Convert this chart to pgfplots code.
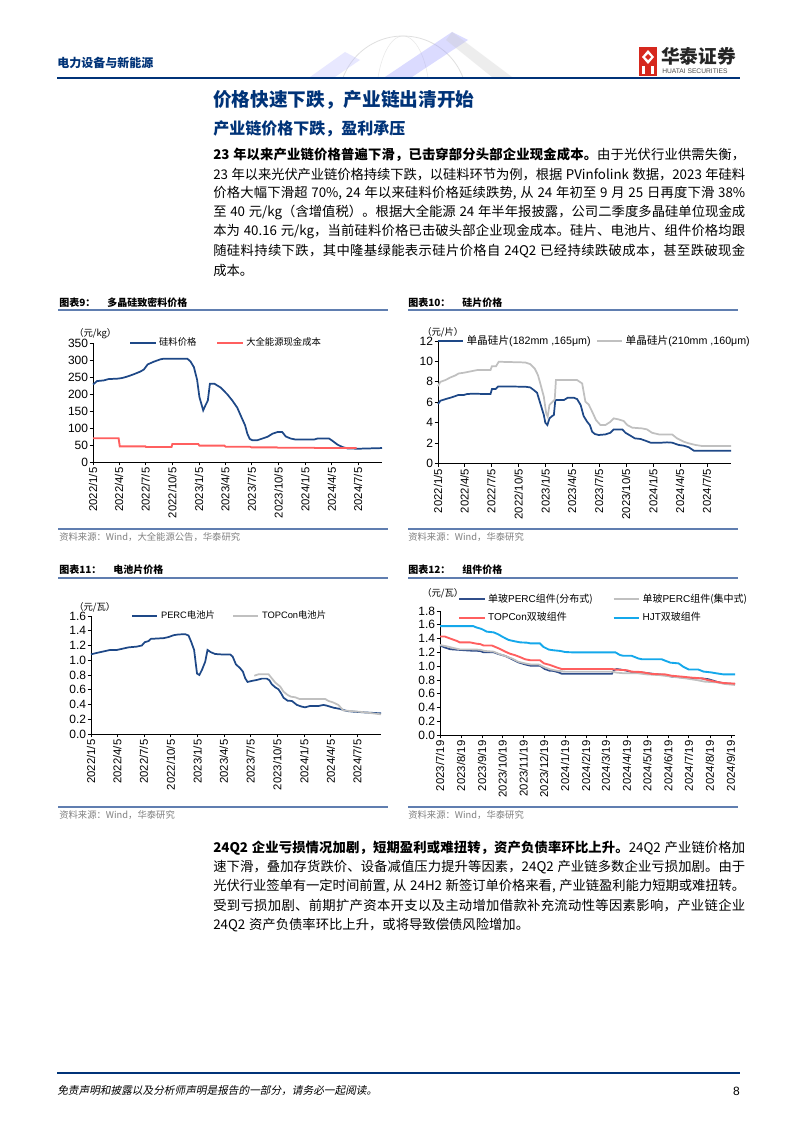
\documentclass[border=0pt]{standalone}
\usepackage{fontspec}
\setmainfont{Liberation Sans}
\newfontfamily\cjk{Noto Sans CJK SC}
\newfontfamily\cjkit{Noto Sans CJK SC}[FakeSlant=0.2]
\usepackage{pgfplots}
\pgfplotsset{compat=1.18}

% stretchable glue between CJK characters, so that the text lines can be justified
\XeTeXinterchartokenstate=1
\newXeTeXintercharclass\cjkclass
\count255="4E00
\loop\ifnum\count255<"9FFF
  \XeTeXcharclass\count255=\cjkclass
  \advance\count255 by 1
\repeat
\XeTeXcharclass"3001=\cjkclass
\XeTeXcharclass"3002=\cjkclass
\XeTeXcharclass"FF0C=\cjkclass
\XeTeXcharclass"FF08=\cjkclass
\XeTeXcharclass"FF09=\cjkclass
\XeTeXinterchartoks\cjkclass\cjkclass={\hskip0pt plus 1.5pt minus 0.3pt\relax}

\definecolor{htblue}{RGB}{0,51,120}
\definecolor{rulecol}{RGB}{96,126,176}
\definecolor{srcgray}{RGB}{128,128,128}
\definecolor{lnblue}{RGB}{30,72,135}
\definecolor{lnred}{RGB}{255,95,95}
\definecolor{lngray}{RGB}{192,192,192}
\definecolor{lncyan}{RGB}{20,168,235}
\definecolor{lnnavy}{RGB}{48,78,138}
\definecolor{logored}{RGB}{214,40,30}

\newcommand{\zh}[1]{{\cjk #1}}
\newcommand{\fs}[1]{\fontsize{#1}{#1}\selectfont}
\newcommand{\bodyfont}{\cjk\fs{10}\spaceskip=0.28em plus 0.3pt minus 0.05em\relax}

\pgfplotsset{
  htsaxis/.style={
    scale only axis, anchor=south west, clip=false,
    axis x line*=bottom, axis y line*=left,
    axis line style={black, line width=0.6pt},
    tick align=outside, major tick length=2.5pt,
    tick style={black, line width=0.5pt},
    /pgf/number format/assume math mode=true,
    yticklabel style={font=\fs{9}, inner sep=1pt},
    xticklabel style={font=\fs{8.5}, rotate=90, anchor=east, inner sep=1.5pt},
    legend style={draw=none, fill=none, inner sep=0pt, font=\fs{7},
      legend columns=2, cells={anchor=west}},
    legend image code/.code={\draw[#1] (0pt,0pt) -- (19pt,0pt);},
  },
  dates22/.style={
    xmin=0, xmax=994,
    xtick={0,90,181,273,365,455,546,638,730,821,912},
    xticklabels={2022/1/5,2022/4/5,2022/7/5,2022/10/5,2023/1/5,2023/4/5,2023/7/5,2023/10/5,2024/1/5,2024/4/5,2024/7/5},
  },
}

\begin{document}
\begin{tikzpicture}
\begin{scope}[x=0.75pt, y=-0.75pt]
\fill[white] (0,0) rectangle (794,1123);

% ---- header
\begin{scope}[opacity=0.35]
  \clip (300,22) rectangle (520,77);
  \draw[gray!70, line width=0.6pt] (403,100) circle [radius=48pt];
  \draw[gray!50, line width=0.4pt] (403,100) ellipse [x radius=48pt, y radius=16pt];
  \draw[gray!50, line width=0.4pt] (403,100) ellipse [x radius=20pt, y radius=48pt];
  \fill[blue!40] (385,77) -- (452,32) -- (468,40) -- (412,77) -- cycle;
  \fill[gray!40] (452,32) -- (512,77) -- (492,77) -- (446,40) -- cycle;
  \fill[blue!25] (310,77) -- (345,52) -- (360,60) -- (335,77) -- cycle;
\end{scope}
\node[anchor=west, inner sep=0pt, text=htblue] at (57,63) {\cjk\bfseries\fs{9}电力设备与新能源};
\fill[logored] (639,47) rectangle (657,76);
\fill[white] (648,50) -- (654,57) -- (648,64) -- (642,57) -- cycle;
\fill[logored] (648,54) -- (651,57) -- (648,60) -- (645,57) -- cycle;
\fill[white] (642,66) rectangle (645,74);
\fill[white] (651,66) rectangle (654,74);
\node[anchor=west, inner sep=0pt, text=black!85] at (661,56) {\cjk\bfseries\fs{14}华泰证券};
\node[anchor=west, inner sep=0pt, text=black!70] at (662,71) {\fs{5}HUATAI SECURITIES};
\draw[htblue, line width=1.6pt] (57,78) -- (740,78);

% ---- headings and text
\node[anchor=west, inner sep=0pt, text=htblue] at (213,100) {\cjk\bfseries\fs{14}价格快速下跌，产业链出清开始};
\node[anchor=west, inner sep=0pt, text=htblue] at (213,129) {\cjk\bfseries\fs{12}产业链价格下跌，盈利承压};
\begin{scope}[every node/.style={anchor=west, inner sep=0pt, font=\bodyfont}]
\node at (213,155.0) {\hbox to 399pt{{\bfseries 23 年以来产业链价格普遍下滑，已击穿部分头部企业现金成本。}由于光伏行业供需失衡，}};
\node at (213,174.2) {\hbox to 399pt{23 年以来光伏产业链价格持续下跌，以硅料环节为例，根据 PVinfolink 数据，2023 年硅料}};
\node at (213,193.4) {\hbox to 399pt{价格大幅下滑超 70\%, 24 年以来硅料价格延续跌势, 从 24 年初至 9 月 25 日再度下滑 38\%}};
\node at (213,212.6) {\hbox to 399pt{至 40 元/kg（含增值税）。根据大全能源 24 年半年报披露，公司二季度多晶硅单位现金成}};
\node at (213,231.8) {\hbox to 399pt{本为 40.16 元/kg，当前硅料价格已击破头部企业现金成本。硅片、电池片、组件价格均跟}};
\node at (213,251.0) {\hbox to 399pt{随硅料持续下跌，其中隆基绿能表示硅片价格自 24Q2 已经持续跌破成本，甚至跌破现金}};
\node at (213,270.2) {\hbox{成本。}};
\node at (213,848.0) {\hbox to 399pt{{\bfseries 24Q2 企业亏损情况加剧，短期盈利或难扭转，资产负债率环比上升。}24Q2 产业链价格加}};
\node at (213,867.2) {\hbox to 399pt{速下滑，叠加存货跌价、设备减值压力提升等因素，24Q2 产业链多数企业亏损加剧。由于}};
\node at (213,886.4) {\hbox to 399pt{光伏行业签单有一定时间前置, 从 24H2 新签订单价格来看, 产业链盈利能力短期或难扭转。}};
\node at (213,905.6) {\hbox to 399pt{受到亏损加剧、前期扩产资本开支以及主动增加借款补充流动性等因素影响，产业链企业}};
\node at (213,924.8) {\hbox{24Q2 资产负债率环比上升，或将导致偿债风险增加。}};
\end{scope}

% ---- chart frames
\begin{scope}[every node/.style={anchor=west, inner sep=0pt}]
\node at (59,302.5) {\cjk\bfseries\fs{7.5}图表9：\hspace{1.2em}多晶硅致密料价格};
\node at (408,302.5) {\cjk\bfseries\fs{7.5}图表10：\hspace{1.2em}硅片价格};
\node at (59,570) {\cjk\bfseries\fs{7.5}图表11：\hspace{1.2em}电池片价格};
\node at (408,570) {\cjk\bfseries\fs{7.5}图表12：\hspace{1.2em}组件价格};
\node[text=srcgray] at (59,537) {\cjk\fs{7}资料来源：Wind，大全能源公告，华泰研究};
\node[text=srcgray] at (408,537) {\cjk\fs{7}资料来源：Wind，华泰研究};
\node[text=srcgray] at (59,815) {\cjk\fs{7}资料来源：Wind，华泰研究};
\node[text=srcgray] at (408,815) {\cjk\fs{7}资料来源：Wind，华泰研究};
\node at (74,334) {\cjk\fs{7}（元/kg）};
\node at (422,332) {\cjk\fs{7}（元/片）};
\node at (74,607) {\cjk\fs{7}（元/瓦）};
\node at (422,593) {\cjk\fs{7}（元/瓦）};
\end{scope}
\draw[rulecol, line width=0.8pt] (58,310) -- (388,310) (408,310) -- (738,310)
  (58,529) -- (388,529) (408,529) -- (738,529)
  (58,578) -- (388,578) (408,578) -- (738,578)
  (58,807) -- (388,807) (408,807) -- (738,807);

% ---- footer
\draw[htblue, line width=1.6pt] (57,1073) -- (740,1073);
\node[anchor=west, inner sep=0pt] at (57,1091) {\cjkit\fs{8}免责声明和披露以及分析师声明是报告的一部分，请务必一起阅读。};
\node[anchor=east, inner sep=0pt] at (740,1091) {\fs{9}8};
\end{scope}

% ---- chart 9
\begin{axis}[htsaxis, dates22, at={(69.75pt,-346.5pt)}, width=216.75pt, height=89.25pt,
  ymin=0, ymax=350, ytick={0,50,...,350},
  legend style={at={(0.125,1)}, anchor=west, /tikz/every even column/.append style={column sep=13pt}}]
\addplot[lnblue, line width=1.3pt] coordinates {(0,228)(14,238)(37,240)(54,244)(83,245)(100,247)(117,251)(140,258)(163,266)(175,272)(188,287)(209,295)(232,302)(244,304)(324,304)(335,296)(347,279)(358,242)(366,191)(379,152)(387,167)(395,181)(402,230)(418,230)(439,219)(462,199)(479,181)(496,160)(513,127)(523,108)(531,83)(539,68)(548,64)(565,64)(600,74)(617,83)(634,88)(651,88)(663,75)(680,69)(697,66)(760,66)(772,69)(812,69)(824,62)(841,51)(858,44)(875,40)(910,39)(994,41)};
\addlegendentry{\zh{硅料价格}}
\addplot[lnred, line width=1.4pt] coordinates {(0,70)(88,70)(92,46)(180,46)(182,44)(270,44)(273,53)(362,53)(366,48)(452,48)(456,45)(540,45)(545,43)(632,43)(636,42)(760,42)(764,41)(907,41)};
\addlegendentry{\zh{大全能源现金成本}}
\end{axis}

% ---- chart 10
\begin{axis}[htsaxis, dates22, at={(328.5pt,-347.5pt)}, width=219.75pt, height=91.7pt,
  ymin=0, ymax=12, ytick={0,2,...,12},
  legend style={at={(-0.005,1)}, anchor=west, font=\fs{8}, /tikz/every even column/.append style={column sep=2pt}}]
\addplot[lnblue, line width=1.3pt] coordinates {(0,5.82)(8,6.14)(25,6.3)(42,6.44)(59,6.6)(68,6.7)(87,6.7)(98,6.8)(115,6.83)(178,6.8)(183,7.29)(195,7.29)(204,7.55)(296,7.52)(313,7.45)(325,7.19)(336,6.93)(347,5.88)(359,4.74)(364,3.99)(371,3.76)(378,4.41)(387,4.64)(393,4.74)(398,6.21)(427,6.21)(440,6.44)(461,6.44)(472,6.3)(484,5.72)(494,4.64)(506,4.08)(515,3.76)(523,3.1)(532,2.88)(545,2.78)(568,2.84)(585,3.0)(596,3.33)(625,3.33)(636,3.0)(653,2.71)(668,2.45)(687,2.39)(704,2.22)(721,2.03)(760,2.03)(777,2.06)(794,2.03)(817,1.8)(834,1.73)(851,1.57)(868,1.24)(994,1.24)};
\addlegendentry{\zh{单晶硅片}(182mm ,165μm)}
\addplot[lngray, line width=1.3pt] coordinates {(0,7.58)(8,8.0)(25,8.17)(42,8.43)(59,8.63)(70,8.82)(87,8.89)(115,9.05)(132,9.15)(178,9.15)(183,9.54)(197,9.54)(206,9.97)(296,9.9)(313,9.74)(328,9.31)(339,8.66)(347,7.84)(359,6.54)(367,4.9)(372,4.58)(378,5.72)(389,6.05)(396,6.27)(400,8.17)(472,8.17)(489,7.84)(500,6.05)(511,5.78)(523,5.07)(536,4.25)(551,3.76)(568,3.76)(585,4.08)(596,4.41)(613,4.31)(630,4.15)(642,3.76)(659,3.5)(692,3.43)(709,3.33)(726,3.0)(749,2.84)(794,2.84)(811,2.45)(834,2.12)(851,1.96)(874,1.8)(896,1.7)(994,1.7)};
\addlegendentry{\zh{单晶硅片}(210mm ,160μm)}
\end{axis}

% ---- chart 11
\begin{axis}[htsaxis, dates22, xmax=993, at={(68.25pt,-550.5pt)}, width=217.5pt, height=88.5pt,
  ymin=0, ymax=1.6, ytick={0,0.2,0.4,0.6,0.8,1.0,1.2,1.4,1.6},
  yticklabel style={/pgf/number format/.cd, fixed, fixed zerofill, precision=1},
  legend style={at={(0.138,1)}, anchor=west, /tikz/every even column/.append style={column sep=11pt}}]
\addplot[lnblue, line width=1.3pt] coordinates {(0,1.08)(15,1.095)(43,1.12)(66,1.14)(89,1.14)(106,1.155)(129,1.175)(157,1.185)(174,1.2)(184,1.245)(197,1.26)(205,1.29)(249,1.30)(266,1.315)(283,1.34)(300,1.35)(323,1.353)(334,1.335)(343,1.25)(353,1.14)(363,0.82)(371,0.80)(380,0.87)(391,0.98)(399,1.14)(410,1.11)(425,1.085)(454,1.077)(477,1.077)(485,1.05)(496,0.946)(511,0.89)(520,0.846)(528,0.756)(536,0.706)(551,0.72)(568,0.733)(585,0.751)(602,0.751)(611,0.728)(619,0.674)(631,0.633)(642,0.606)(651,0.552)(659,0.493)(673,0.452)(688,0.448)(705,0.394)(722,0.371)(733,0.362)(750,0.38)(779,0.38)(796,0.394)(807,0.385)(830,0.357)(853,0.34)(876,0.312)(899,0.303)(933,0.294)(993,0.28)};
\addlegendentry{PERC\zh{电池片}}
\addplot[lngray, line width=1.3pt] coordinates {(559,0.79)(574,0.81)(608,0.81)(619,0.756)(631,0.697)(648,0.643)(659,0.575)(673,0.53)(684,0.507)(699,0.498)(714,0.475)(727,0.475)(802,0.475)(813,0.448)(828,0.43)(847,0.394)(864,0.32)(887,0.312)(916,0.303)(938,0.294)(993,0.267)};
\addlegendentry{TOPCon\zh{电池片}}
\end{axis}

% ---- chart 12
\begin{axis}[htsaxis, at={(330pt,-551.25pt)}, width=221.25pt, height=93pt,
  xmin=0, xmax=434,
  xtick={0,31,62,92,123,153,184,215,244,275,305,336,366,397,428},
  xticklabels={2023/7/19,2023/8/19,2023/9/19,2023/10/19,2023/11/19,2023/12/19,2024/1/19,2024/2/19,2024/3/19,2024/4/19,2024/5/19,2024/6/19,2024/7/19,2024/8/19,2024/9/19},
  ymin=0, ymax=1.8, ytick={0,0.2,0.4,0.6,0.8,1.0,1.2,1.4,1.6,1.8},
  yticklabel style={/pgf/number format/.cd, fixed, fixed zerofill, precision=1},
  legend style={at={(0.061,1.02)}, anchor=west, font=\fs{7.5}, /tikz/every even column/.append style={column sep=13pt}, /tikz/row sep=2pt}]
\addplot[lnnavy, line width=1.3pt] coordinates {(0,1.30)(7,1.27)(15,1.245)(29,1.235)(44,1.225)(59,1.22)(64,1.20)(79,1.20)(86,1.175)(96,1.147)(106,1.10)(115,1.055)(125,1.025)(133,1.006)(147,1.006)(154,0.958)(161,0.934)(167,0.93)(174,0.91)(179,0.89)(253,0.89)(256,0.943)(260,0.958)(272,0.94)(282,0.914)(295,0.91)(304,0.90)(312,0.89)(331,0.87)(341,0.847)(356,0.837)(371,0.822)(385,0.822)(395,0.81)(407,0.774)(417,0.75)(434,0.74)};
\addlegendentry{\zh{单玻}PERC\zh{组件(分布式)}}
\addplot[lngray, line width=1.3pt] coordinates {(0,1.306)(10,1.287)(20,1.263)(29,1.243)(47,1.243)(59,1.238)(66,1.22)(79,1.21)(86,1.18)(96,1.147)(106,1.11)(115,1.064)(125,1.04)(133,1.025)(145,1.025)(154,0.982)(162,0.953)(172,0.934)(184,0.92)(253,0.92)(260,0.905)(272,0.895)(292,0.895)(304,0.88)(322,0.87)(341,0.847)(361,0.822)(376,0.80)(390,0.774)(407,0.764)(420,0.74)(434,0.726)};
\addlegendentry{\zh{单玻}PERC\zh{组件(集中式)}}
\addplot[lnred, line width=1.4pt] coordinates {(0,1.43)(7,1.43)(15,1.40)(25,1.365)(29,1.345)(44,1.345)(49,1.335)(54,1.325)(59,1.32)(64,1.30)(76,1.30)(81,1.28)(88,1.25)(96,1.21)(103,1.18)(110,1.16)(118,1.13)(125,1.10)(133,1.085)(147,1.085)(153,1.04)(162,1.016)(172,0.98)(179,0.958)(253,0.958)(258,0.95)(275,0.94)(282,0.92)(295,0.915)(304,0.90)(312,0.885)(331,0.88)(341,0.86)(356,0.847)(371,0.832)(385,0.822)(393,0.80)(405,0.774)(417,0.755)(434,0.745)};
\addlegendentry{TOPCon\zh{双玻组件}}
\addplot[lncyan, line width=1.4pt] coordinates {(0,1.58)(49,1.58)(54,1.56)(61,1.54)(69,1.50)(79,1.49)(86,1.46)(93,1.42)(101,1.38)(110,1.36)(118,1.345)(128,1.34)(133,1.33)(147,1.33)(152,1.28)(160,1.24)(167,1.23)(177,1.22)(184,1.205)(194,1.20)(258,1.20)(265,1.16)(270,1.15)(282,1.15)(292,1.11)(297,1.10)(326,1.10)(331,1.08)(339,1.05)(351,1.04)(358,0.99)(366,0.95)(380,0.95)(388,0.92)(398,0.91)(407,0.895)(417,0.88)(434,0.88)};
\addlegendentry{HJT\zh{双玻组件}}
\end{axis}
\end{tikzpicture}
\end{document}
